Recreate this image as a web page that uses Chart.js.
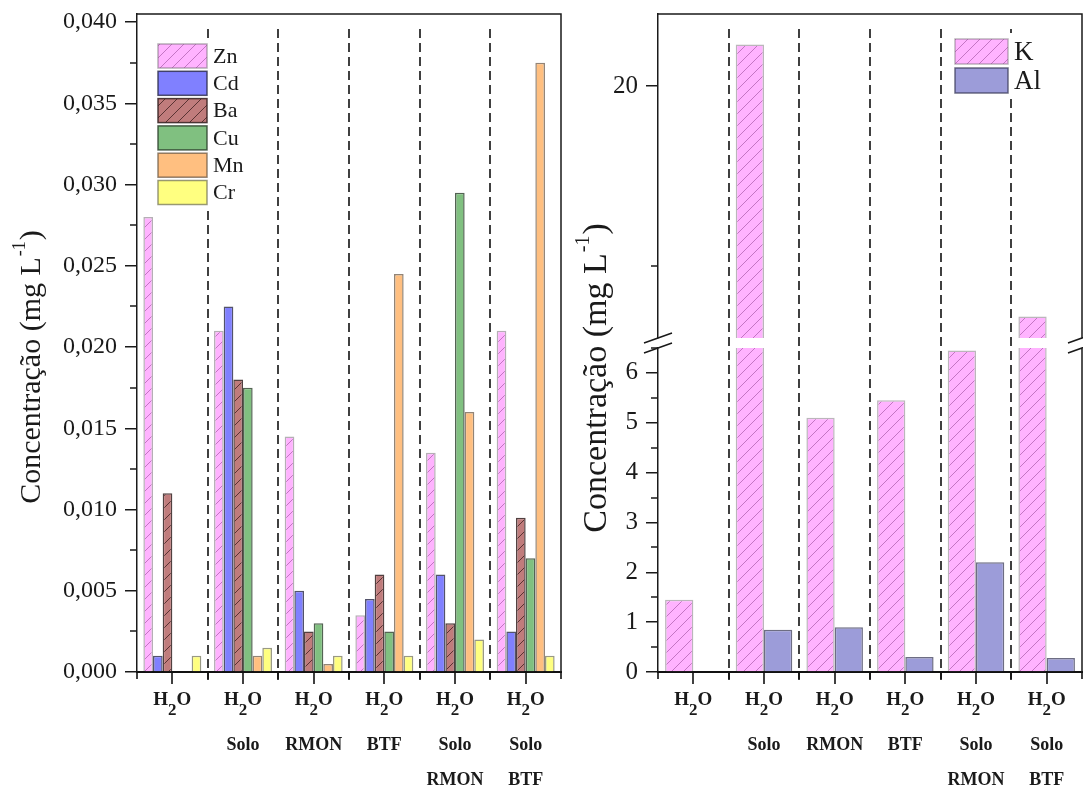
<!DOCTYPE html>
<html>
<head>
<meta charset="utf-8">
<script src="https://cdn.jsdelivr.net/npm/chart.js@4"></script>
<style>
	body { margin: 0; background: #fff; }
	#wrap { position: relative; width: 1083px; height: 787px; background: #fff; }
	canvas { position: absolute; top: 0; }
	#left-chart { left: 0; }
	#right-chart { left: 575px; }
</style>
</head>
<body>
<div id="wrap">
	<canvas id="left-chart" width="575" height="787"></canvas>
	<canvas id="right-chart" width="508" height="787"></canvas>
</div>
<script>
// DATA
const categories = ["H2O", "H2O Solo", "H2O RMON", "H2O BTF", "H2O Solo RMON", "H2O Solo BTF"];
const zn = [0.028, 0.021, 0.0145, 0.0035, 0.0135, 0.021];
const cd = [0.001, 0.0225, 0.005, 0.0045, 0.006, 0.0025];
const ba = [0.011, 0.018, 0.0025, 0.006, 0.003, 0.0095];
const cu = [null, 0.0175, 0.003, 0.0025, 0.0295, 0.007];
const mn = [null, 0.001, 0.0005, 0.0245, 0.016, 0.0375];
const cr = [0.001, 0.0015, 0.001, 0.001, 0.002, 0.001];
const k_values = [1.45, 21.15, 5.1, 5.45, 6.45, 13.6];
const al_values = [null, 0.85, 0.9, 0.3, 2.2, 0.28];

const left_ticks = [0, 0.005, 0.01, 0.015, 0.02, 0.025, 0.03, 0.035, 0.04];
const low_ticks = [0, 1, 2, 3, 4, 5, 6];
const high_ticks = [20];

const font_family = '"Liberation Serif", "Times New Roman", serif';
const ink = "#1a1a1a";

function hatch(bg, line) {
	const c = document.createElement("canvas");
	c.width = 12;
	c.height = 12;
	const g = c.getContext("2d");
	g.fillStyle = bg;
	g.fillRect(0, 0, 12, 12);
	g.strokeStyle = line;
	g.lineWidth = 0.9;
	g.beginPath();
	g.moveTo(0, 12); g.lineTo(12, 0);
	g.moveTo(-1, 1); g.lineTo(1, -1);
	g.moveTo(11, 13); g.lineTo(13, 11);
	g.stroke();
	return g.createPattern(c, "repeat");
}

// draws "Concentração (mg L-1)" rotated, with a superscript
function draw_y_title(ctx, cx, cy, size) {
	const big = `${size}px ${font_family}`;
	const small = `${Math.round(size * 0.6)}px ${font_family}`;
	ctx.save();
	ctx.translate(cx, cy);
	ctx.rotate(-Math.PI / 2);
	ctx.fillStyle = ink;
	ctx.textBaseline = "middle";
	ctx.textAlign = "left";
	ctx.font = big;
	const w1 = ctx.measureText("Concentração (mg L").width;
	const w3 = ctx.measureText(")").width;
	ctx.font = small;
	const w2 = ctx.measureText("-1").width + 2;
	let x = -(w1 + w2 + w3) / 2;
	ctx.font = big;
	ctx.fillText("Concentração (mg L", x, 0);
	x += w1;
	ctx.font = small;
	ctx.fillText("-1", x + 1, -size * 0.38);
	x += w2;
	ctx.font = big;
	ctx.fillText(")", x, 0);
	ctx.restore();
}

function draw_category(ctx, text, cx, base) {
	const parts = text.split(" ");
	const f1 = `bold 19px ${font_family}`;
	const f2 = `bold 17px ${font_family}`;
	ctx.font = f1;
	const wh = ctx.measureText("H").width;
	const wo = ctx.measureText("O").width;
	ctx.font = f2;
	const w2 = ctx.measureText("2").width;
	let x = cx - (wh + w2 + wo) / 2;
	ctx.textAlign = "left";
	ctx.textBaseline = "alphabetic";
	ctx.font = f1;
	ctx.fillText("H", x, base);
	ctx.font = f2;
	ctx.fillText("2", x + wh, base + 10);
	ctx.font = f1;
	ctx.fillText("O", x + wh + w2, base);
	ctx.textAlign = "center";
	ctx.font = `bold 18px ${font_family}`;
	if (parts[1]) ctx.fillText(parts[1], cx, base + 45);
	if (parts[2]) ctx.fillText(parts[2], cx, base + 80);
}

// dashed group separators, x ticks and two-line category labels
const group_axis = {
	id: "groupAxis",
	beforeDatasetsDraw(chart) {
		const { ctx, chartArea: a, scales: { x } } = chart;
		ctx.save();
		ctx.strokeStyle = "#111";
		ctx.lineWidth = 1.6;
		ctx.setLineDash([9, 5]);
		for (let i = 1; i < categories.length; i++) {
			const px = Math.round((x.getPixelForValue(i - 1) + x.getPixelForValue(i)) / 2);
			ctx.beginPath();
			ctx.moveTo(px, a.top + 15);
			ctx.lineTo(px, a.bottom + 8);
			ctx.stroke();
		}
		ctx.restore();
	},
	afterDraw(chart) {
		const { ctx, chartArea: a, scales: { x } } = chart;
		const half = (x.getPixelForValue(1) - x.getPixelForValue(0)) / 2;
		ctx.save();
		ctx.strokeStyle = "#111";
		ctx.lineWidth = 1.6;
		ctx.beginPath();
		categories.forEach((c, i) => {
			const px = Math.round(x.getPixelForValue(i));
			ctx.moveTo(px, a.bottom);
			ctx.lineTo(px, a.bottom + 12);
		});
		for (let i = 0; i <= categories.length; i++) {
			const px = Math.round(x.getPixelForValue(0) - half + i * 2 * half);
			ctx.moveTo(px, a.bottom);
			ctx.lineTo(px, a.bottom + 7);
		}
		ctx.stroke();
		ctx.fillStyle = ink;
		categories.forEach((c, i) => draw_category(ctx, c, x.getPixelForValue(i), a.bottom + 33));
		ctx.restore();
	}
};

const minor_ticks = {
	id: "minorTicks",
	afterDraw(chart, args, opts) {
		const ctx = chart.ctx;
		ctx.save();
		ctx.strokeStyle = ink;
		ctx.lineWidth = 1.5;
		ctx.beginPath();
		Object.entries(opts.steps || {}).forEach(([id, step]) => {
			const s = chart.scales[id];
			for (let v = Math.ceil(s.min / step) * step; v <= s.max + step / 100; v += step) {
				if (s.ticks.some(t => Math.abs(t.value - v) < step / 10)) continue;
				const py = Math.round(s.getPixelForValue(v));
				ctx.moveTo(s.right - 7, py);
				ctx.lineTo(s.right, py);
			}
		});
		ctx.stroke();
		ctx.restore();
	}
};

const box_legend = {
	id: "boxLegend",
	afterDatasetsDraw(chart, args, o) {
		const ctx = chart.ctx;
		ctx.save();
		ctx.fillStyle = "#fff";
		ctx.fillRect(o.x - 6, o.y - 6, o.bg, o.items.length * o.step + 6);
		o.items.forEach((di, i) => {
			const ds = chart.data.datasets[di];
			const y = o.y + i * o.step;
			ctx.fillStyle = ds.backgroundColor;
			ctx.fillRect(o.x, y, o.w, o.h);
			ctx.strokeStyle = ds.borderColor;
			ctx.lineWidth = 1.5;
			ctx.strokeRect(o.x, y, o.w, o.h);
			ctx.fillStyle = ink;
			ctx.font = `${o.size}px ${font_family}`;
			ctx.textAlign = "left";
			ctx.textBaseline = "middle";
			ctx.fillText(ds.label, o.x + o.w + 6, y + o.h / 2 + 1);
		});
		ctx.restore();
	}
};

const y_font = size => ({ family: font_family, size: size });

function y_axis_common(size, width) {
	return {
		ticks: { font: y_font(size), color: ink, padding: 8, autoSkip: false },
		grid: { drawOnChartArea: false, drawTicks: true, tickLength: 12, color: ink, lineWidth: 1.5 },
		border: { display: true, color: ink, width: 1.5 },
		afterFit: s => {
			s.width = width;
			s.paddingTop = 0;
			s.paddingBottom = 0;
		}
	};
}

const x_axis = {
	type: "category",
	grid: { display: true, drawOnChartArea: false, drawTicks: false },
	border: { display: true, color: "#111", width: 2 },
	ticks: { display: false },
	afterFit: s => {
		s.height = 115;
		s.paddingLeft = 0;
		s.paddingRight = 0;
	}
};

// LEFT CHART
const left_frame = {
	id: "leftFrame",
	afterDraw(chart) {
		const { ctx, chartArea: a } = chart;
		ctx.save();
		ctx.strokeStyle = ink;
		ctx.lineWidth = 1.5;
		ctx.beginPath();
		ctx.moveTo(a.left, a.top);
		ctx.lineTo(a.right, a.top);
		ctx.lineTo(a.right, a.bottom);
		ctx.stroke();
		ctx.restore();
		draw_y_title(ctx, 32, 367, 30);
	}
};

const bar_common = { categoryPercentage: 0.82, barPercentage: 1, borderWidth: 1.5 };
const left_y = y_axis_common(24, 137);

new Chart(document.getElementById("left-chart"), {
	type: "bar",
	data: {
		labels: categories,
		datasets: [
			{ label: "Zn", data: zn, backgroundColor: hatch("#ffb3ff", "rgba(160,80,160,0.7)"), borderColor: "rgba(120,110,120,0.55)", ...bar_common },
			{ label: "Cd", data: cd, backgroundColor: "#8080ff", borderColor: "rgba(40,40,70,0.8)", ...bar_common },
			{ label: "Ba", data: ba, backgroundColor: hatch("#c07c7c", "#4e2a2a"), borderColor: "rgba(50,30,30,0.85)", ...bar_common },
			{ label: "Cu", data: cu, backgroundColor: "#80c080", borderColor: "rgba(40,60,40,0.8)", ...bar_common },
			{ label: "Mn", data: mn, backgroundColor: "#ffbf80", borderColor: "rgba(100,80,60,0.7)", ...bar_common },
			{ label: "Cr", data: cr, backgroundColor: "#ffff80", borderColor: "rgba(110,110,80,0.7)", ...bar_common }
		]
	},
	options: {
		responsive: false,
		animation: false,
		devicePixelRatio: 1,
		layout: { padding: { top: 14, right: 14, left: 0, bottom: 0 } },
		scales: {
			x: x_axis,
			y: {
				...left_y,
				min: 0,
				max: 0.0405,
				afterBuildTicks: s => { s.ticks = left_ticks.map(v => ({ value: v })); },
				ticks: { ...left_y.ticks, callback: v => v.toFixed(3).replace(".", ",") }
			}
		},
		plugins: {
			legend: { display: false },
			tooltip: { enabled: false },
			minorTicks: { steps: { y: 0.0025 } },
			boxLegend: { items: [0, 1, 2, 3, 4, 5], x: 158, y: 44, w: 49, h: 24, step: 27.3, size: 22, bg: 98 }
		}
	},
	plugins: [group_axis, minor_ticks, box_legend, left_frame]
});

// RIGHT CHART (broken y axis)
const right_frame = {
	id: "rightFrame",
	afterDraw(chart) {
		const { ctx, chartArea: a, scales: { yHigh, yLow } } = chart;
		ctx.save();
		ctx.strokeStyle = ink;
		ctx.lineWidth = 1.5;
		ctx.beginPath();
		ctx.moveTo(a.left, a.top);
		ctx.lineTo(a.right, a.top);
		ctx.lineTo(a.right, yHigh.bottom);
		ctx.moveTo(a.right, yLow.top);
		ctx.lineTo(a.right, a.bottom);
		[a.left, a.right].forEach(px => {
			ctx.moveTo(px - 14, yHigh.bottom + 5);
			ctx.lineTo(px + 14, yHigh.bottom - 5);
			ctx.moveTo(px - 14, yLow.top + 5);
			ctx.lineTo(px + 14, yLow.top - 5);
		});
		ctx.stroke();
		ctx.restore();
		draw_y_title(ctx, 22, 378, 34);
	}
};

const k_fill = hatch("#ffb3ff", "rgba(160,80,160,0.7)");
const right_bar = { categoryPercentage: 0.8, barPercentage: 1, borderWidth: 1.5, clip: 0 };
const right_y = y_axis_common(25, 83);

new Chart(document.getElementById("right-chart"), {
	type: "bar",
	data: {
		labels: categories,
		datasets: [
			{ label: "K", data: k_values, yAxisID: "yLow", stack: "K", backgroundColor: k_fill, borderColor: "rgba(120,110,120,0.5)", ...right_bar },
			{ label: "Al", data: al_values, yAxisID: "yLow", stack: "Al", backgroundColor: "#9c9cd9", borderColor: "rgba(60,60,90,0.75)", ...right_bar },
			{ label: "K", data: k_values, yAxisID: "yHigh", stack: "K", backgroundColor: k_fill, borderColor: "rgba(120,110,120,0.5)", ...right_bar }
		]
	},
	options: {
		responsive: false,
		animation: false,
		devicePixelRatio: 1,
		layout: { padding: { top: 14, right: 1, left: 0, bottom: 0 } },
		scales: {
			x: x_axis,
			yLow: {
				...right_y,
				type: "linear",
				position: "left",
				stack: "k",
				stackWeight: 324,
				stacked: false,
				min: 0,
				max: 6.5,
				afterBuildTicks: s => { s.ticks = low_ticks.map(v => ({ value: v })); }
			},
			yGap: {
				type: "linear",
				position: "left",
				stack: "k",
				stackWeight: 10,
				min: 0,
				max: 1,
				ticks: { display: false },
				grid: { display: false },
				border: { display: false },
				afterFit: s => {
					s.width = 83;
					s.paddingTop = 0;
					s.paddingBottom = 0;
				}
			},
			yHigh: {
				...right_y,
				type: "linear",
				position: "left",
				stack: "k",
				stackWeight: 324,
				stacked: false,
				min: 13,
				max: 22,
				afterBuildTicks: s => { s.ticks = high_ticks.map(v => ({ value: v })); }
			}
		},
		plugins: {
			legend: { display: false },
			tooltip: { enabled: false },
			minorTicks: { steps: { yLow: 0.5, yHigh: 5 } },
			boxLegend: { items: [0, 1], x: 380, y: 39, w: 53, h: 25, step: 29, size: 27, bg: 100 }
		}
	},
	plugins: [group_axis, minor_ticks, box_legend, right_frame]
});
</script>
</body>
</html>
